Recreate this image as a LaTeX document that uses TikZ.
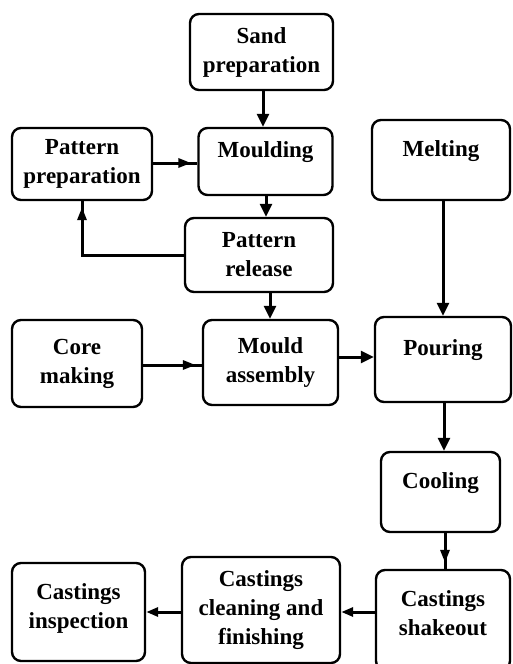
\documentclass[tikz,border=0pt]{standalone}
\usepackage{fontspec}
\setmainfont{Liberation Serif}
\usetikzlibrary{arrows.meta,decorations.markings}
\begin{document}
\begin{tikzpicture}[x=1pt,y=-1pt,
  box/.style={draw,line width=2.4pt,rounded corners=9pt,inner sep=0pt,align=center,
    font=\fontsize{23}{29}\selectfont\bfseries},
  raised/.style={text depth=23pt},
  conn/.style={line width=3pt},
  arr/.style={conn,-{Triangle[length=13pt,width=12pt]}},
  arrs/.style={conn,-{Triangle[length=12pt,width=9pt]}},
  arrm/.style={conn,postaction={decorate},decoration={markings,
    mark=at position -6pt with {\arrow{Triangle[length=13pt,width=9pt]}}}}]
\useasboundingbox (0,0) rectangle (512,664);
\clip (0,0) rectangle (512,664);
\node[box,minimum width=143pt,minimum height=76pt] (sand) at (261.5,52) {Sand\\preparation};
\node[box,raised,minimum width=134pt,minimum height=67pt] (mould) at (265.5,161.5) {Moulding};
\node[box,minimum width=140pt,minimum height=72pt] (patprep) at (82,164) {Pattern\\preparation};
\node[box,raised,minimum width=138pt,minimum height=80pt] (melt) at (441,160) {Melting};
\node[box,minimum width=148pt,minimum height=74pt] (patrel) at (259,255) {Pattern\\release};
\node[box,minimum width=130pt,minimum height=87pt] (core) at (77,363.5) {Core\\making};
\node[box,minimum width=135pt,minimum height=85pt] (assem) at (270.5,362.5) {Mould\\assembly};
\node[box,raised,minimum width=136pt,minimum height=85pt] (pour) at (443,359.5) {Pouring};
\node[box,raised,minimum width=119pt,minimum height=80pt] (cool) at (440.5,492) {Cooling};
\node[box,text depth=14pt,minimum width=134pt,minimum height=100pt] (shake) at (443,620) {Castings\\shakeout};
\node[box,minimum width=158pt,minimum height=106pt] (clean) at (261,610) {Castings\\cleaning and\\finishing};
\node[box,text depth=12pt,minimum width=133pt,minimum height=98pt] (insp) at (78.5,612) {Castings\\inspection};
%
\draw[arr] ([xshift=1.5pt]sand.south) -- ([xshift=1.5pt]sand.south |- mould.north);
\draw[arrm] (patprep.east |- 0,163) -- (mould.west |- 0,163);
\draw[arr] ([xshift=0.5pt]mould.south) -- ([xshift=0.5pt]mould.south |- patrel.north);
\draw[arrm] (patrel.west |- 0,255) -| (patprep.south);
\draw[arr] ([xshift=11pt]patrel.south) -- ([xshift=11pt]patrel.south |- assem.north);
\draw[arrm] (core.east |- 0,365) -- (assem.west |- 0,365);
\draw[arr] (assem.east |- 0,357) -- (pour.west |- 0,357);
\draw[arr] ([xshift=2pt]melt.south) -- ([xshift=2pt]melt.south |- pour.north);
\draw[arr] ([xshift=1pt]pour.south) -- ([xshift=1pt]pour.south |- cool.north);
\draw[arrm] ([xshift=4.5pt]cool.south) -- ([xshift=4.5pt]cool.south |- shake.north);
\draw[arrs] (shake.west |- 0,612) -- (clean.east |- 0,612);
\draw[arrs] (clean.west |- 0,612) -- (insp.east |- 0,612);
\end{tikzpicture}
\end{document}
